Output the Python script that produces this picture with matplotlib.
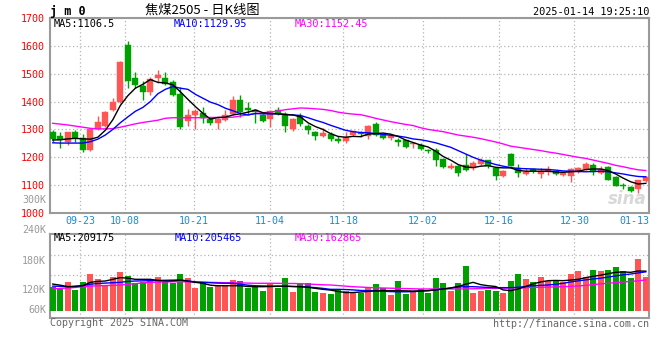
import matplotlib
matplotlib.use('Agg')
import matplotlib.pyplot as plt

W, H = 660, 360

# ===== Data =====
opens = [1290, 1278, 1256, 1290, 1268, 1225, 1302, 1314, 1368, 1397,
         1604, 1484, 1457, 1433, 1483, 1484, 1469, 1427, 1330, 1350,
         1358, 1338, 1322, 1335, 1356, 1406, 1377, 1368, 1350, 1338,
         1368, 1356, 1300, 1350, 1314, 1290, 1276, 1285, 1267, 1258,
         1281, 1288, 1275, 1318, 1279, 1270, 1263, 1261, 1246, 1245,
         1227, 1227, 1195, 1160, 1169, 1174, 1160, 1177, 1189, 1163,
         1133, 1210, 1163, 1140, 1157, 1140, 1146, 1151, 1136, 1133,
         1148, 1157, 1171, 1142, 1166, 1130, 1100, 1094, 1086, 1115]
closes = [1264, 1261, 1289, 1269, 1225, 1302, 1326, 1362, 1397, 1543,
          1475, 1461, 1433, 1481, 1496, 1463, 1425, 1308, 1350, 1365,
          1342, 1322, 1338, 1353, 1406, 1362, 1370, 1362, 1332, 1365,
          1354, 1312, 1338, 1318, 1299, 1276, 1287, 1264, 1258, 1272,
          1293, 1282, 1314, 1279, 1270, 1275, 1255, 1237, 1250, 1231,
          1221, 1192, 1165, 1169, 1144, 1154, 1180, 1192, 1168, 1133,
          1150, 1169, 1145, 1148, 1150, 1150, 1157, 1140, 1145, 1157,
          1160, 1175, 1147, 1157, 1120, 1097, 1098, 1080, 1118, 1128]
highs = [1297, 1290, 1292, 1298, 1285, 1305, 1347, 1366, 1413, 1545,
         1618, 1507, 1475, 1489, 1513, 1505, 1477, 1454, 1374, 1374,
         1380, 1345, 1345, 1370, 1421, 1425, 1397, 1375, 1356, 1368,
         1380, 1362, 1342, 1358, 1320, 1293, 1305, 1290, 1275, 1290,
         1296, 1295, 1316, 1326, 1282, 1282, 1268, 1262, 1256, 1252,
         1230, 1232, 1198, 1180, 1172, 1213, 1185, 1199, 1192, 1166,
         1155, 1215, 1175, 1160, 1160, 1160, 1168, 1155, 1148, 1160,
         1164, 1184, 1178, 1168, 1168, 1132, 1108, 1098, 1120, 1133]
lows = [1255, 1235, 1243, 1255, 1219, 1222, 1298, 1310, 1365, 1395,
        1449, 1449, 1406, 1425, 1465, 1460, 1421, 1302, 1314, 1302,
        1322, 1315, 1300, 1330, 1350, 1346, 1350, 1322, 1325, 1308,
        1350, 1290, 1296, 1312, 1284, 1261, 1272, 1260, 1250, 1250,
        1278, 1272, 1267, 1276, 1266, 1263, 1240, 1232, 1232, 1226,
        1216, 1168, 1162, 1157, 1132, 1150, 1155, 1172, 1162, 1118,
        1130, 1167, 1130, 1136, 1145, 1124, 1136, 1137, 1134, 1112,
        1145, 1155, 1136, 1140, 1119, 1096, 1086, 1076, 1071, 1110]

ma5 = [1262, 1263, 1266, 1268, 1266, 1265, 1272, 1297, 1335, 1386,
       1421, 1448, 1462, 1479, 1469, 1467, 1460, 1435, 1408, 1382,
       1358, 1337, 1343, 1344, 1352, 1356, 1362, 1370, 1360, 1357,
       1356, 1353, 1352, 1345, 1324, 1310, 1300, 1285, 1275, 1272,
       1275, 1274, 1283, 1285, 1287, 1283, 1275, 1262, 1253, 1244,
       1237, 1222, 1203, 1190, 1174, 1165, 1163, 1168, 1170, 1164,
       1162, 1162, 1153, 1150, 1150, 1150, 1150, 1147, 1146, 1148,
       1150, 1156, 1158, 1158, 1152, 1140, 1125, 1112, 1104, 1106.5]
ma10 = [1252, 1251, 1251, 1251, 1251, 1256, 1265, 1280, 1300, 1324,
        1345, 1365, 1379, 1400, 1428, 1444, 1454, 1448, 1444, 1426,
        1412, 1398, 1389, 1376, 1367, 1357, 1352, 1357, 1356, 1356,
        1356, 1354, 1352, 1350, 1342, 1333, 1325, 1315, 1306, 1297,
        1292, 1289, 1288, 1285, 1282, 1279, 1276, 1272, 1266, 1263,
        1258, 1252, 1244, 1236, 1224, 1212, 1200, 1190, 1182, 1174,
        1168, 1163, 1160, 1159, 1158, 1157, 1156, 1154, 1151, 1150,
        1149, 1148, 1149, 1150, 1148, 1144, 1140, 1135, 1131, 1129.95]
ma30 = [1322, 1319, 1316, 1312, 1308, 1304, 1302, 1302, 1303, 1308,
        1314, 1320, 1325, 1329, 1333, 1340, 1342, 1342, 1342, 1342,
        1342, 1343, 1343, 1343, 1344, 1348, 1353, 1357, 1360, 1362,
        1366, 1371, 1374, 1377, 1376, 1374, 1372, 1368, 1362, 1358,
        1355, 1353, 1347, 1340, 1334, 1328, 1323, 1318, 1314, 1306,
        1300, 1296, 1292, 1286, 1280, 1276, 1272, 1267, 1261, 1255,
        1248, 1240, 1236, 1232, 1228, 1224, 1219, 1215, 1210, 1205,
        1200, 1196, 1190, 1184, 1178, 1171, 1166, 1160, 1155, 1152.45]

volumes = [127, 118, 153, 109, 153, 194, 168, 132, 178, 205,
           185, 148, 153, 157, 178, 153, 148, 194, 175, 120,
           146, 125, 129, 130, 162, 157, 120, 132, 104, 145,
           118, 175, 100, 148, 148, 100, 95, 88, 109, 105,
           92, 92, 122, 141, 122, 83, 157, 88, 100, 113,
           92, 173, 148, 102, 148, 236, 93, 102, 110, 102,
           93, 157, 194, 168, 152, 178, 157, 162, 153, 194,
           210, 178, 215, 210, 215, 231, 210, 173, 273, 178]
vol_ma5 = [141, 135, 127, 130, 132, 150, 155, 157, 166, 175,
           172, 166, 166, 166, 160, 157, 158, 162, 156, 150,
           145, 135, 132, 132, 132, 132, 128, 127, 127, 128,
           129, 130, 128, 127, 124, 118, 113, 109, 102, 96,
           96, 99, 102, 105, 106, 106, 106, 105, 104, 105,
           106, 110, 115, 120, 128, 140, 150, 138, 132, 128,
           110, 106, 115, 128, 142, 152, 159, 160, 159, 162,
           166, 175, 182, 188, 196, 203, 205, 203, 210, 209.175]
vol_ma10 = [130, 129, 127, 127, 133, 140, 144, 146, 148, 150,
            155, 157, 158, 159, 160, 161, 162, 162, 158, 152,
            150, 148, 146, 145, 145, 140, 135, 132, 131, 130,
            130, 129, 128, 127, 125, 122, 118, 113, 113, 112,
            110, 107, 106, 105, 103, 101, 100, 100, 101, 103,
            106, 110, 115, 120, 126, 127, 127, 125, 123, 122,
            122, 122, 124, 128, 132, 134, 136, 140, 145, 152,
            158, 163, 168, 172, 178, 184, 190, 194, 200, 205.465]
vol_ma30 = [115, 118, 120, 123, 127, 130, 132, 133, 134, 136,
            140, 143, 147, 150, 151, 152, 153, 153, 153, 152,
            151, 150, 149, 148, 148, 147, 146, 145, 145, 145,
            145, 144, 144, 143, 141, 139, 137, 136, 133, 130,
            127, 125, 123, 121, 120, 119, 118, 117, 116, 115,
            115, 115, 115, 115, 115, 115, 116, 117, 118, 118,
            119, 120, 121, 122, 123, 124, 125, 126, 127, 129,
            131, 134, 138, 142, 145, 149, 152, 155, 158, 162.865]

date_labels = ['09-23', '10-08', '10-21', '11-04', '11-18',
               '12-02', '12-16', '12-30']
date_pos = [3.66, 9.62, 18.8, 28.9, 38.7, 49.3, 59.4, 69.5]
last_label, last_pos = '01-13', 77.5

price_ticks = [1000, 1100, 1200, 1300, 1400, 1500, 1600, 1700]

# ===== Colors / fonts =====
RED = '#ff5555'
GREEN = '#00a000'
GRID = '#b4b4b4'
BORDER = '#9a9a9a'
MONO = ['DejaVu Sans Mono']
CJK = ['Noto Sans CJK SC', 'DejaVu Sans']

fig = plt.figure(figsize=(W / 100, H / 100), dpi=100)
fig.patch.set_facecolor('white')


def px_text(x, y, s, **kw):
    kw.setdefault('family', MONO)
    kw.setdefault('va', 'center')
    fig.text(x / W, 1 - y / H, s, **kw)


def style_panel(ax):
    for sp in ax.spines.values():
        sp.set_color(BORDER)
        sp.set_linewidth(1.5)
    ax.set_xlim(-0.37, 79.47)
    ax.set_xticks(date_pos)
    ax.set_xticklabels([])
    ax.tick_params(length=0)
    ax.grid(True, ls=(0, (1, 2)), color=GRID, lw=0.9)
    ax.set_axisbelow(True)


n = len(closes)
xs = list(range(n))
up = [c >= o for o, c in zip(opens, closes)]
colors = [RED if u else GREEN for u in up]

# ================= PRICE PANEL =================
ax1 = fig.add_axes([50 / W, 1 - 213 / H, 599.3 / W, 195 / H])
style_panel(ax1)
ax1.set_ylim(1000, 1700)
ax1.set_yticks(price_ticks)
ax1.set_yticklabels([str(t) for t in price_ticks], color='red',
                    fontsize=7.2, family=MONO)
ax1.tick_params(axis='y', pad=4)

ax1.vlines(xs, lows, highs, colors=colors, lw=1.0, zorder=3)
bottoms = [min(o, c) for o, c in zip(opens, closes)]
heights = [max(abs(c - o), 3.0) for o, c in zip(opens, closes)]
ax1.bar(xs, heights, bottom=bottoms, width=0.8, color=colors,
        edgecolor=colors, lw=0.3, zorder=4)

ax1.plot(xs, ma30, color='#ff00ff', lw=1.0, zorder=5)
ax1.plot(xs, ma10, color='#0000ff', lw=1.0, zorder=5)
ax1.plot(xs, ma5, color='black', lw=1.0, zorder=6)

ax1.text(0.963, 0.07, 'sina', transform=ax1.transAxes, fontsize=12,
         style='italic', fontweight='bold', color='#d8d8d8',
         ha='center', va='center', zorder=2)

# ================= VOLUME PANEL =================
ax2 = fig.add_axes([50 / W, 1 - 318 / H, 599.3 / W, 84 / H])
style_panel(ax2)
vol_scale = 5.29  # K per pixel
ax2.set_ylim(-7.3 * vol_scale, 76.7 * vol_scale)
ax2.set_yticks([(310.7 - y) * vol_scale for y in (255, 275, 295)])
ax2.set_yticklabels([])
ax2.bar(xs, volumes, width=0.8, color=colors, zorder=3)
ax2.plot(xs, vol_ma30, color='#ff00ff', lw=1.0, zorder=5)
ax2.plot(xs, vol_ma10, color='#0000ff', lw=1.0, zorder=5)
ax2.plot(xs, vol_ma5, color='black', lw=1.0, zorder=6)

# ================= TEXTS =================
px_text(50, 11, 'j m 0', fontsize=8.5, fontweight='bold', ha='left')
px_text(202, 10, '焦煤2505 - 日K线图', family=CJK, fontsize=9.5, ha='center')
px_text(649, 12, '2025-01-14 19:25:10', fontsize=7.4, ha='right')

px_text(54, 24, f'MA5:{ma5[-1]}', fontsize=7.4, ha='left', color='black')
px_text(174, 24, f'MA10:{ma10[-1]:.2f}', fontsize=7.4, ha='left', color='#0000ff')
px_text(295, 24, f'MA30:{ma30[-1]:.2f}', fontsize=7.4, ha='left', color='#ff00ff')

px_text(46, 200, '300K', fontsize=7.2, ha='right', color='#999999')

for lab, p in zip(date_labels + [last_label], date_pos + [last_pos]):
    px = 52.8 + 7.506 * p
    px_text(px, 221, lab, fontsize=7.2, ha='center', color='#1a8ad4')

for lab, y in zip(['240K', '180K', '120K', '60K'], [230, 261, 290, 310]):
    px_text(46, y, lab, fontsize=7.2, ha='right', color='#999999')

px_text(54, 238, f'MA5:{round(vol_ma5[-1] * 1000)}', fontsize=7.4,
        ha='left', color='black')
px_text(175, 238, f'MA10:{round(vol_ma10[-1] * 1000)}', fontsize=7.4,
        ha='left', color='#0000ff')
px_text(295, 238, f'MA30:{round(vol_ma30[-1] * 1000)}', fontsize=7.4,
        ha='left', color='#ff00ff')

px_text(50, 323.5, 'Copyright 2025 SINA.COM', fontsize=7.2, ha='left',
        color='#666666')
px_text(649, 324, 'http://finance.sina.com.cn', fontsize=7.2, ha='right',
        color='#666666')

fig.savefig('out.png', dpi=100)
